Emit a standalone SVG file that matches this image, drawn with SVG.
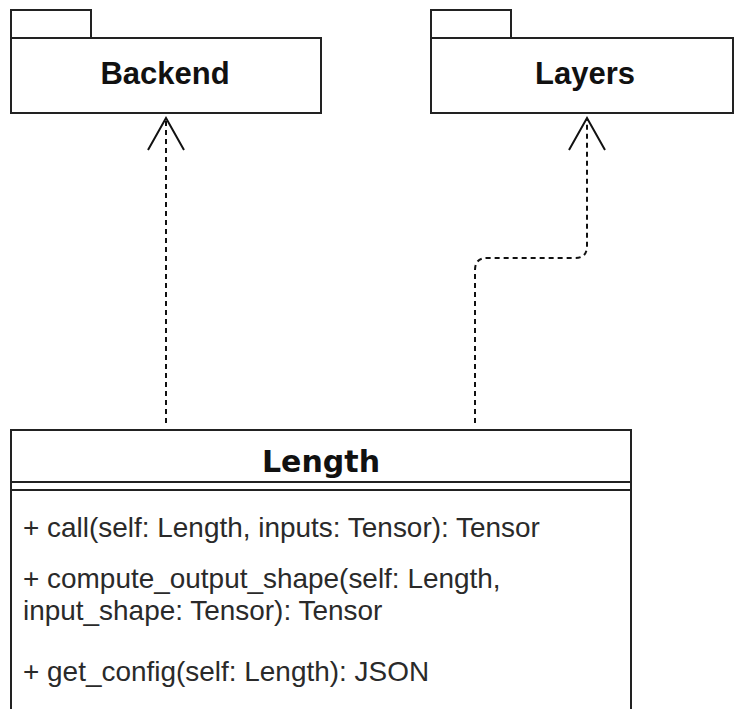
<svg xmlns="http://www.w3.org/2000/svg" width="735" height="709" viewBox="0 0 735 709">
<style>
.shape{fill:#ffffff;stroke:#222222;stroke-width:2}
.pkg{font-family:"Liberation Sans",Arial,sans-serif;font-weight:bold;font-size:31px;fill:#111;text-anchor:middle}
.title{font-family:"DejaVu Sans",Verdana,sans-serif;font-weight:bold;font-size:30px;fill:#111;text-anchor:middle}
.op{font-family:"Liberation Sans",Arial,sans-serif;font-size:27px;fill:#2a2a2a}
.dep{fill:none;stroke:#111;stroke-width:2;stroke-dasharray:5 4}
.head{fill:none;stroke:#111;stroke-width:2}
</style>
<rect width="735" height="709" fill="#ffffff"/>
<g id="backend">
<rect class="shape" x="11" y="10" width="80" height="28"/>
<rect class="shape" x="11" y="38" width="310" height="75"/>
<text class="pkg" x="165" y="84">Backend</text>
</g>
<g id="layers">
<rect class="shape" x="431" y="10" width="80" height="28"/>
<rect class="shape" x="431" y="38" width="302" height="75"/>
<text class="pkg" x="585" y="84">Layers</text>
</g>
<g id="length">
<rect class="shape" x="11" y="430" width="620" height="290"/>
<line x1="11" y1="482" x2="631" y2="482" stroke="#222" stroke-width="2"/>
<line x1="11" y1="490" x2="631" y2="490" stroke="#222" stroke-width="2"/>
<text class="title" x="321" y="472">Length</text>
<g transform="translate(23 0) scale(1.035 1)">
<text class="op" x="0" y="537">+ call(self: Length, inputs: Tensor): Tensor</text>
<text class="op" x="0" y="588">+ compute_output_shape(self: Length,</text>
<text class="op" x="0" y="620">input_shape: Tensor): Tensor</text>
<text class="op" x="0" y="681">+ get_config(self: Length): JSON</text>
</g>
</g>
<g id="connectors">
<path class="dep" d="M166 423 V120"/>
<path class="head" d="M148 150 L166 118 L184 150"/>
<path class="dep" d="M475 423 V270 Q475 258 487 258 H575 Q587 258 587 246 V120"/>
<path class="head" d="M569 150 L587 118 L605 150"/>
</g>
</svg>
